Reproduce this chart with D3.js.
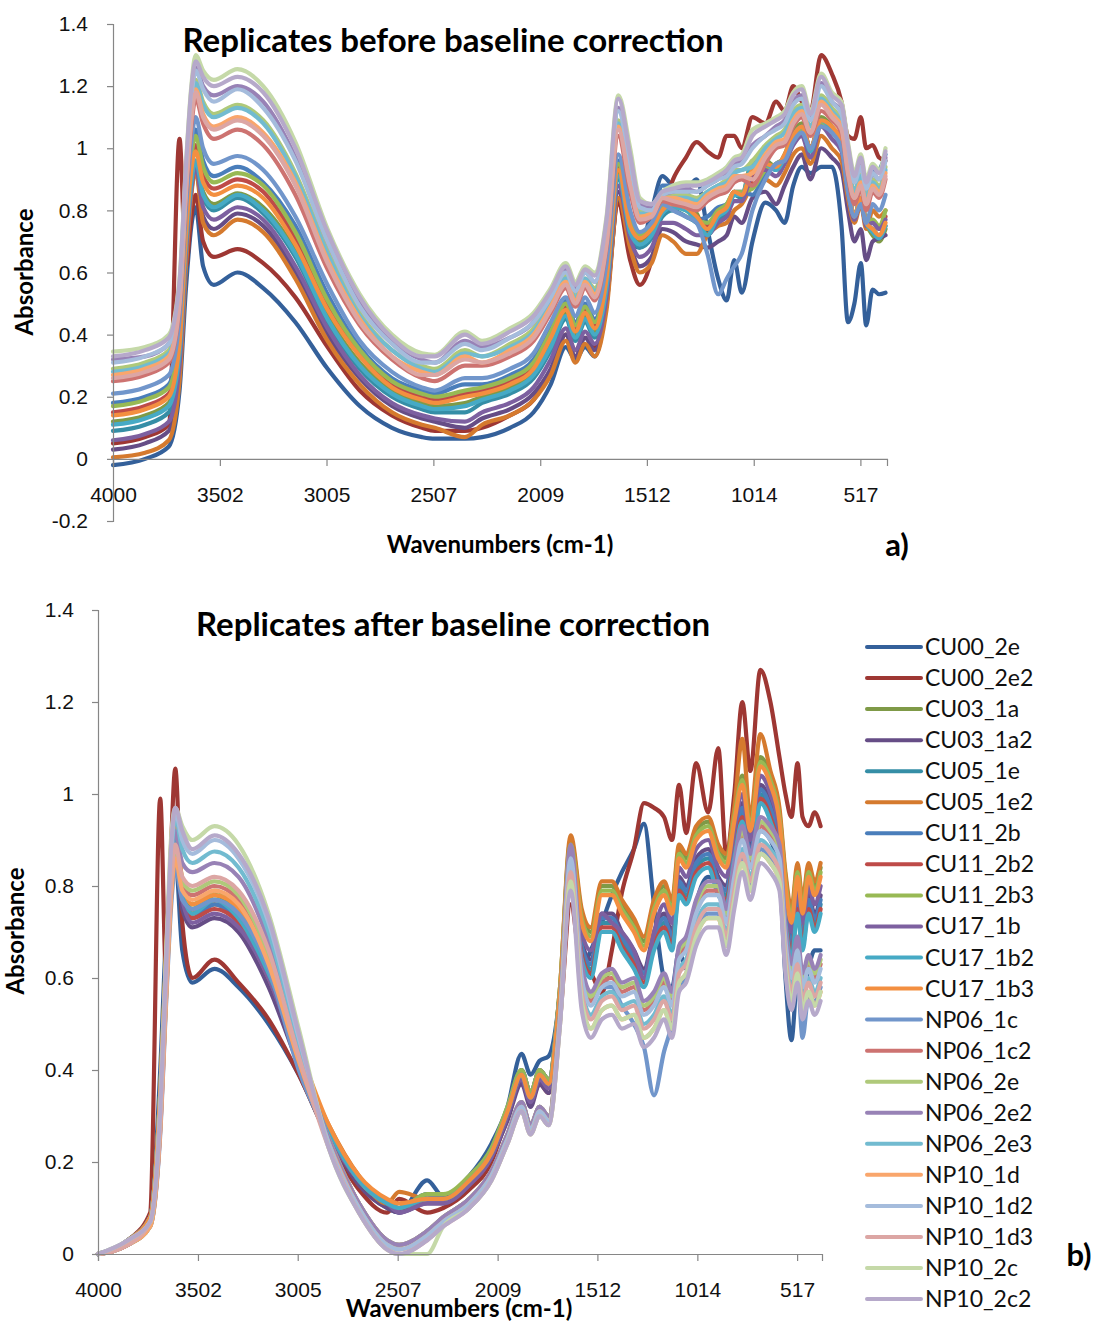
<!DOCTYPE html>
<html>
<head>
<meta charset="utf-8">
<script src="https://cdn.jsdelivr.net/npm/d3@7"></script>
<style>
  body { margin: 0; background: #fff; }
  svg { display: block; font-family: Lato, "Open Sans", sans-serif; }
</style>
</head>
<body>
<div id="chart"></div>
<script>
// wavenumber grid (cm-1) shared by every spectrum
const wavenumbers = [4000, 3850, 3740, 3690, 3660, 3635, 3615, 3580, 3530, 3420,
  3300, 3150, 3000, 2850, 2700, 2560, 2500, 2360, 2280, 2150,
  2040, 1960, 1890, 1845, 1800, 1755, 1700, 1645, 1590, 1545,
  1490, 1440, 1390, 1330, 1280, 1230, 1180, 1140, 1105, 1070,
  1020, 960, 910, 870, 830, 790, 750, 700, 650, 605,
  575, 545, 515, 490, 460, 430, 400];

const seriesNames = ["CU00_2e", "CU00_2e2", "CU03_1a", "CU03_1a2", "CU05_1e", "CU05_1e2",
  "CU11_2b", "CU11_2b2", "CU11_2b3", "CU17_1b", "CU17_1b2", "CU17_1b3",
  "NP06_1c", "NP06_1c2", "NP06_2e", "NP06_2e2", "NP06_2e3", "NP10_1d",
  "NP10_1d2", "NP10_1d3", "NP10_2c", "NP10_2c2"];

const seriesColors = ["#34609A", "#9E3733", "#7F9A47", "#664D86", "#358EA6", "#D57A2E",
  "#4A7EBB", "#BE4B48", "#98B954", "#7D60A0", "#46AAC5", "#F38F40",
  "#7196CB", "#CD7371", "#AFC97A", "#9882B6", "#72BBD0", "#F9A66C",
  "#A5BCDC", "#DCA6A4", "#C5D9A8", "#B6A9CA"];

const xTickLabels = [4000, 3502, 3005, 2507, 2009, 1512, 1014, 517];
const yTicksBefore = [-0.2, 0, 0.2, 0.4, 0.6, 0.8, 1, 1.2, 1.4];
const yTicksAfter = [0, 0.2, 0.4, 0.6, 0.8, 1, 1.2, 1.4];

// ---- a) before baseline correction ----
const before_CU00_2e = [-0.02, 0.0, 0.04, 0.22, 0.55, 0.75, 0.81, 0.62, 0.56, 0.60,
  0.55, 0.44, 0.29, 0.17, 0.10, 0.07, 0.065, 0.065, 0.07, 0.10,
  0.15, 0.24, 0.36, 0.32, 0.36, 0.33, 0.50, 0.83, 0.70, 0.68,
  0.80, 0.91, 0.88, 0.87, 0.90, 0.74, 0.58, 0.51, 0.64, 0.535,
  0.70, 0.825, 0.80, 0.76, 0.88, 0.94, 0.92, 0.94, 0.94, 0.75,
  0.44, 0.50, 0.63, 0.43, 0.545, 0.53, 0.535];
const before_CU00_2e2 = [0.05, 0.07, 0.11, 1.03, 0.62, 0.78, 0.85, 0.70, 0.65, 0.675,
  0.63, 0.52, 0.36, 0.22, 0.14, 0.10, 0.09, 0.09, 0.10, 0.14,
  0.19, 0.28, 0.40, 0.35, 0.39, 0.36, 0.52, 0.82, 0.64, 0.56,
  0.64, 0.80, 0.90, 0.97, 1.02, 0.99, 0.97, 1.04, 1.04, 1.00,
  1.10, 1.08, 1.15, 1.12, 1.20, 1.15, 1.12, 1.30, 1.24, 1.15,
  1.04, 1.03, 1.10, 1.00, 1.01, 0.97, 0.96];
const before_CU03_1a = [0.12, 0.14, 0.18, 0.35, 0.70, 0.90, 0.96, 0.86, 0.82, 0.855,
  0.81, 0.67, 0.46, 0.31, 0.22, 0.18, 0.17, 0.18, 0.20, 0.23,
  0.28, 0.37, 0.47, 0.40, 0.46, 0.41, 0.56, 0.92, 0.74, 0.70,
  0.73, 0.80, 0.83, 0.82, 0.79, 0.72, 0.78, 0.80, 0.86, 0.85,
  0.96, 0.96, 0.94, 0.98, 1.05, 1.08, 1.00, 1.10, 1.07, 1.02,
  0.88, 0.78, 0.84, 0.76, 0.72, 0.70, 0.74];
const before_CU03_1a2 = [0.03, 0.05, 0.09, 0.27, 0.64, 0.86, 0.94, 0.78, 0.74, 0.79,
  0.75, 0.60, 0.40, 0.26, 0.17, 0.13, 0.12, 0.10, 0.13, 0.16,
  0.21, 0.29, 0.40, 0.33, 0.39, 0.35, 0.50, 0.86, 0.69, 0.62,
  0.65, 0.74, 0.73, 0.70, 0.69, 0.68, 0.70, 0.72, 0.78, 0.76,
  0.84, 0.86, 0.82, 0.88, 0.94, 0.98, 0.90, 1.00, 0.97, 0.93,
  0.80, 0.70, 0.74, 0.64, 0.70, 0.71, 0.72];
const before_CU05_1e = [0.09, 0.11, 0.15, 0.33, 0.68, 0.89, 0.95, 0.84, 0.80, 0.84,
  0.79, 0.65, 0.44, 0.29, 0.20, 0.16, 0.15, 0.15, 0.18, 0.21,
  0.26, 0.35, 0.45, 0.38, 0.44, 0.39, 0.54, 0.90, 0.73, 0.68,
  0.71, 0.78, 0.80, 0.78, 0.76, 0.72, 0.77, 0.79, 0.85, 0.84,
  0.94, 0.95, 0.93, 0.97, 1.03, 1.06, 0.99, 1.09, 1.05, 1.01,
  0.87, 0.78, 0.84, 0.76, 0.74, 0.72, 0.75];
const before_CU05_1e2 = [0.005, 0.02, 0.06, 0.25, 0.62, 0.85, 0.93, 0.76, 0.72, 0.77,
  0.73, 0.58, 0.38, 0.24, 0.15, 0.11, 0.10, 0.07, 0.11, 0.14,
  0.19, 0.27, 0.38, 0.31, 0.37, 0.33, 0.48, 0.84, 0.68, 0.60,
  0.63, 0.72, 0.70, 0.66, 0.66, 0.72, 0.75, 0.76, 0.80, 0.82,
  0.88, 0.90, 0.88, 0.92, 0.98, 1.00, 0.95, 1.04, 1.00, 0.96,
  0.84, 0.76, 0.82, 0.74, 0.80, 0.78, 0.80];
const before_CU11_2b = [0.18, 0.20, 0.24, 0.42, 0.77, 0.98, 1.06, 0.96, 0.91, 0.94,
  0.89, 0.75, 0.53, 0.36, 0.26, 0.22, 0.21, 0.24, 0.24, 0.27,
  0.32, 0.42, 0.51, 0.44, 0.50, 0.45, 0.61, 0.96, 0.78, 0.72,
  0.75, 0.88, 0.88, 0.87, 0.77, 0.78, 0.81, 0.82, 0.86, 0.86,
  0.85, 0.92, 0.95, 0.97, 1.03, 1.06, 1.00, 1.08, 1.06, 1.01,
  0.87, 0.78, 0.83, 0.82, 0.92, 0.93, 0.98];
const before_CU11_2b2 = [0.15, 0.17, 0.21, 0.39, 0.74, 0.95, 1.01, 0.91, 0.87, 0.90,
  0.86, 0.71, 0.50, 0.34, 0.24, 0.20, 0.19, 0.21, 0.22, 0.25,
  0.30, 0.40, 0.49, 0.42, 0.48, 0.43, 0.59, 0.94, 0.76, 0.71,
  0.74, 0.81, 0.82, 0.81, 0.78, 0.75, 0.80, 0.81, 0.86, 0.85,
  0.90, 0.94, 0.94, 0.97, 1.04, 1.07, 1.00, 1.09, 1.06, 1.01,
  0.87, 0.78, 0.83, 0.76, 0.76, 0.74, 0.78];
const before_CU11_2b3 = [0.17, 0.19, 0.23, 0.40, 0.75, 0.97, 1.04, 0.94, 0.89, 0.92,
  0.88, 0.73, 0.51, 0.35, 0.25, 0.21, 0.20, 0.22, 0.23, 0.26,
  0.31, 0.41, 0.50, 0.43, 0.49, 0.44, 0.60, 0.95, 0.77, 0.72,
  0.75, 0.81, 0.81, 0.80, 0.77, 0.76, 0.80, 0.82, 0.86, 0.86,
  0.87, 0.93, 0.95, 0.97, 1.03, 1.06, 1.00, 1.08, 1.06, 1.01,
  0.87, 0.78, 0.83, 0.76, 0.77, 0.75, 0.80];
const before_CU17_1b = [0.06, 0.08, 0.12, 0.30, 0.66, 0.87, 0.94, 0.81, 0.77, 0.81,
  0.77, 0.62, 0.42, 0.27, 0.18, 0.14, 0.13, 0.12, 0.15, 0.18,
  0.23, 0.32, 0.42, 0.35, 0.41, 0.37, 0.52, 0.88, 0.71, 0.65,
  0.68, 0.76, 0.76, 0.74, 0.72, 0.72, 0.76, 0.78, 0.83, 0.83,
  0.92, 0.93, 0.91, 0.95, 1.01, 1.04, 0.97, 1.07, 1.03, 0.99,
  0.86, 0.77, 0.83, 0.75, 0.76, 0.74, 0.77];
const before_CU17_1b2 = [0.11, 0.13, 0.17, 0.34, 0.69, 0.89, 0.96, 0.85, 0.81, 0.85,
  0.80, 0.66, 0.45, 0.30, 0.21, 0.17, 0.16, 0.17, 0.19, 0.22,
  0.27, 0.36, 0.46, 0.39, 0.45, 0.40, 0.55, 0.91, 0.73, 0.69,
  0.72, 0.79, 0.81, 0.80, 0.77, 0.72, 0.78, 0.80, 0.85, 0.85,
  0.95, 0.95, 0.93, 0.97, 1.04, 1.07, 0.99, 1.09, 1.06, 1.01,
  0.88, 0.78, 0.84, 0.76, 0.73, 0.71, 0.75];
const before_CU17_1b3 = [0.14, 0.16, 0.20, 0.37, 0.72, 0.93, 0.99, 0.89, 0.85, 0.88,
  0.84, 0.69, 0.48, 0.33, 0.23, 0.19, 0.18, 0.20, 0.21, 0.24,
  0.29, 0.39, 0.48, 0.41, 0.47, 0.42, 0.58, 0.93, 0.75, 0.71,
  0.74, 0.80, 0.82, 0.81, 0.78, 0.74, 0.79, 0.81, 0.86, 0.85,
  0.93, 0.95, 0.94, 0.98, 1.04, 1.07, 1.00, 1.09, 1.07, 1.02,
  0.88, 0.78, 0.84, 0.76, 0.74, 0.72, 0.76];
const before_NP06_1c = [0.21, 0.23, 0.27, 0.45, 0.80, 1.02, 1.10, 1.00, 0.95, 0.975,
  0.93, 0.78, 0.56, 0.38, 0.28, 0.23, 0.22, 0.26, 0.26, 0.29,
  0.34, 0.44, 0.52, 0.46, 0.52, 0.47, 0.63, 0.98, 0.80, 0.73,
  0.76, 0.82, 0.80, 0.78, 0.76, 0.66, 0.53, 0.58, 0.62, 0.66,
  0.80, 0.90, 0.95, 0.96, 1.02, 1.05, 1.00, 1.07, 1.05, 1.00,
  0.86, 0.78, 0.82, 0.76, 0.82, 0.80, 0.85];
const before_NP06_1c2 = [0.25, 0.27, 0.31, 0.49, 0.85, 1.07, 1.16, 1.08, 1.03, 1.06,
  1.01, 0.85, 0.61, 0.43, 0.32, 0.26, 0.25, 0.30, 0.30, 0.33,
  0.38, 0.47, 0.55, 0.49, 0.55, 0.51, 0.68, 1.04, 0.86, 0.76,
  0.78, 0.83, 0.82, 0.81, 0.80, 0.83, 0.85, 0.86, 0.89, 0.90,
  0.88, 0.95, 1.00, 1.01, 1.07, 1.10, 1.04, 1.12, 1.09, 1.05,
  0.91, 0.82, 0.87, 0.80, 0.86, 0.84, 0.90];
const before_NP06_2e = [0.29, 0.31, 0.35, 0.53, 0.89, 1.13, 1.22, 1.15, 1.11, 1.14,
  1.09, 0.92, 0.67, 0.47, 0.35, 0.30, 0.29, 0.35, 0.33, 0.37,
  0.42, 0.51, 0.59, 0.53, 0.58, 0.55, 0.72, 1.09, 0.92, 0.80,
  0.80, 0.84, 0.85, 0.85, 0.84, 0.86, 0.88, 0.90, 0.93, 0.93,
  0.96, 1.01, 1.04, 1.06, 1.12, 1.14, 1.07, 1.17, 1.13, 1.09,
  0.96, 0.86, 0.92, 0.84, 0.90, 0.88, 0.94];
const before_NP06_2e2 = [0.32, 0.33, 0.37, 0.55, 0.92, 1.16, 1.26, 1.20, 1.17, 1.20,
  1.15, 0.97, 0.70, 0.50, 0.38, 0.32, 0.31, 0.38, 0.36, 0.39,
  0.44, 0.53, 0.61, 0.55, 0.60, 0.57, 0.75, 1.13, 0.96, 0.82,
  0.81, 0.85, 0.86, 0.87, 0.86, 0.88, 0.90, 0.92, 0.95, 0.96,
  1.01, 1.04, 1.07, 1.09, 1.15, 1.17, 1.10, 1.21, 1.15, 1.12,
  0.99, 0.89, 0.95, 0.87, 0.92, 0.90, 0.97];
const before_NP06_2e3 = [0.28, 0.30, 0.34, 0.52, 0.88, 1.12, 1.21, 1.14, 1.10, 1.13,
  1.08, 0.91, 0.66, 0.46, 0.35, 0.29, 0.28, 0.34, 0.33, 0.36,
  0.41, 0.50, 0.58, 0.52, 0.58, 0.54, 0.71, 1.08, 0.91, 0.79,
  0.79, 0.84, 0.84, 0.84, 0.83, 0.86, 0.88, 0.89, 0.92, 0.93,
  0.94, 1.00, 1.03, 1.05, 1.11, 1.13, 1.07, 1.16, 1.12, 1.08,
  0.95, 0.86, 0.91, 0.84, 0.89, 0.87, 0.93];
const before_NP10_1d = [0.27, 0.29, 0.33, 0.51, 0.87, 1.10, 1.19, 1.11, 1.07, 1.10,
  1.05, 0.89, 0.64, 0.45, 0.33, 0.28, 0.27, 0.33, 0.31, 0.35,
  0.40, 0.49, 0.57, 0.51, 0.57, 0.53, 0.70, 1.07, 0.89, 0.78,
  0.79, 0.84, 0.84, 0.83, 0.82, 0.85, 0.87, 0.88, 0.91, 0.91,
  0.92, 0.98, 1.02, 1.03, 1.09, 1.12, 1.05, 1.15, 1.11, 1.07,
  0.93, 0.84, 0.89, 0.82, 0.88, 0.86, 0.92];
const before_NP10_1d2 = [0.31, 0.33, 0.37, 0.55, 0.91, 1.16, 1.25, 1.19, 1.15, 1.19,
  1.13, 0.96, 0.70, 0.49, 0.37, 0.31, 0.31, 0.37, 0.35, 0.39,
  0.44, 0.52, 0.60, 0.54, 0.60, 0.57, 0.74, 1.12, 0.95, 0.81,
  0.80, 0.85, 0.86, 0.86, 0.86, 0.88, 0.90, 0.91, 0.94, 0.95,
  1.00, 1.04, 1.06, 1.08, 1.14, 1.16, 1.09, 1.20, 1.15, 1.11,
  0.98, 0.89, 0.94, 0.87, 0.92, 0.90, 0.96];
const before_NP10_1d3 = [0.26, 0.28, 0.32, 0.50, 0.86, 1.09, 1.18, 1.10, 1.06, 1.09,
  1.04, 0.88, 0.63, 0.44, 0.33, 0.27, 0.27, 0.32, 0.31, 0.34,
  0.39, 0.48, 0.56, 0.50, 0.56, 0.52, 0.69, 1.06, 0.88, 0.77,
  0.78, 0.84, 0.83, 0.82, 0.81, 0.84, 0.86, 0.87, 0.90, 0.91,
  0.90, 0.97, 1.01, 1.02, 1.08, 1.11, 1.05, 1.14, 1.10, 1.06,
  0.92, 0.84, 0.88, 0.82, 0.87, 0.85, 0.91];
const before_NP10_2c = [0.345, 0.36, 0.40, 0.58, 0.95, 1.20, 1.30, 1.25, 1.22, 1.255,
  1.20, 1.02, 0.74, 0.53, 0.40, 0.34, 0.335, 0.41, 0.38, 0.42,
  0.47, 0.55, 0.63, 0.57, 0.62, 0.60, 0.78, 1.17, 1.00, 0.84,
  0.82, 0.86, 0.88, 0.89, 0.89, 0.90, 0.92, 0.94, 0.97, 0.98,
  1.06, 1.08, 1.10, 1.12, 1.18, 1.20, 1.12, 1.24, 1.18, 1.15,
  1.02, 0.92, 0.98, 0.90, 0.95, 0.93, 1.00];
const before_NP10_2c2 = [0.33, 0.35, 0.39, 0.57, 0.94, 1.19, 1.28, 1.23, 1.20, 1.23,
  1.18, 1.00, 0.73, 0.52, 0.39, 0.33, 0.33, 0.40, 0.37, 0.41,
  0.46, 0.54, 0.62, 0.56, 0.61, 0.59, 0.77, 1.16, 0.98, 0.83,
  0.82, 0.86, 0.87, 0.88, 0.88, 0.89, 0.91, 0.93, 0.96, 0.97,
  1.04, 1.07, 1.09, 1.11, 1.17, 1.19, 1.11, 1.23, 1.17, 1.14,
  1.01, 0.91, 0.97, 0.89, 0.94, 0.92, 0.99];

// ---- b) after baseline correction ----
const after_CU00_2e = [0, 0.02, 0.07, 0.40, 0.70, 0.82, 0.86, 0.66, 0.59, 0.62,
  0.58, 0.50, 0.39, 0.25, 0.15, 0.10, 0.09, 0.16, 0.125, 0.17,
  0.24, 0.32, 0.435, 0.39, 0.42, 0.43, 0.56, 0.86, 0.62, 0.66,
  0.72, 0.78, 0.83, 0.88, 0.935, 0.76, 0.60, 0.58, 0.66, 0.62,
  0.76, 0.82, 0.80, 0.76, 0.88, 0.92, 0.86, 0.92, 0.90, 0.82,
  0.60, 0.465, 0.60, 0.56, 0.62, 0.66, 0.66];
const after_CU00_2e2 = [0, 0.03, 0.09, 0.99, 0.60, 0.90, 1.055, 0.72, 0.60, 0.64,
  0.59, 0.51, 0.39, 0.25, 0.14, 0.09, 0.12, 0.09, 0.10, 0.14,
  0.20, 0.30, 0.38, 0.33, 0.37, 0.35, 0.50, 0.76, 0.62, 0.61,
  0.567, 0.66, 0.785, 0.88, 0.98, 0.97, 0.95, 0.90, 1.02, 0.915,
  1.067, 0.96, 1.10, 0.87, 1.00, 1.20, 1.05, 1.27, 1.20, 1.08,
  1.00, 0.95, 1.067, 0.95, 0.93, 0.96, 0.93];
const after_CU03_1a = [0, 0.03, 0.08, 0.35, 0.65, 0.85, 0.93, 0.80, 0.75, 0.78,
  0.74, 0.62, 0.44, 0.27, 0.16, 0.11, 0.10, 0.13, 0.12, 0.16,
  0.22, 0.31, 0.40, 0.35, 0.40, 0.38, 0.57, 0.90, 0.74, 0.70,
  0.80, 0.80, 0.76, 0.72, 0.68, 0.76, 0.80, 0.76, 0.88, 0.86,
  0.92, 0.94, 0.88, 0.86, 0.96, 1.04, 0.94, 1.08, 1.04, 0.96,
  0.82, 0.74, 0.84, 0.76, 0.84, 0.80, 0.84];
const after_CU03_1a2 = [0, 0.03, 0.08, 0.33, 0.61, 0.80, 0.87, 0.75, 0.71, 0.73,
  0.70, 0.58, 0.41, 0.26, 0.15, 0.10, 0.09, 0.11, 0.11, 0.15,
  0.21, 0.29, 0.37, 0.32, 0.37, 0.35, 0.54, 0.84, 0.68, 0.64,
  0.74, 0.74, 0.70, 0.66, 0.62, 0.70, 0.74, 0.70, 0.82, 0.80,
  0.86, 0.88, 0.82, 0.80, 0.90, 0.98, 0.88, 1.02, 0.98, 0.90,
  0.76, 0.68, 0.78, 0.70, 0.78, 0.74, 0.78];
const after_CU05_1e = [0, 0.03, 0.08, 0.35, 0.64, 0.84, 0.92, 0.79, 0.74, 0.77,
  0.73, 0.61, 0.44, 0.27, 0.16, 0.11, 0.10, 0.12, 0.12, 0.16,
  0.22, 0.31, 0.39, 0.34, 0.39, 0.37, 0.56, 0.82, 0.66, 0.62,
  0.72, 0.72, 0.68, 0.64, 0.60, 0.68, 0.72, 0.68, 0.80, 0.78,
  0.84, 0.86, 0.80, 0.78, 0.88, 0.96, 0.86, 1.00, 0.96, 0.88,
  0.74, 0.66, 0.76, 0.68, 0.76, 0.72, 0.76];
const after_CU05_1e2 = [0, 0.03, 0.08, 0.34, 0.64, 0.83, 0.91, 0.78, 0.74, 0.76,
  0.73, 0.61, 0.43, 0.28, 0.17, 0.11, 0.135, 0.12, 0.12, 0.16,
  0.22, 0.31, 0.40, 0.35, 0.40, 0.38, 0.57, 0.91, 0.75, 0.71,
  0.81, 0.81, 0.77, 0.73, 0.69, 0.77, 0.81, 0.77, 0.89, 0.87,
  0.93, 0.95, 0.89, 0.87, 0.97, 1.12, 0.95, 1.13, 1.05, 0.97,
  0.83, 0.75, 0.85, 0.77, 0.85, 0.81, 0.85];
const after_CU11_2b = [0, 0.03, 0.08, 0.34, 0.63, 0.83, 0.91, 0.78, 0.73, 0.76,
  0.72, 0.60, 0.43, 0.27, 0.16, 0.11, 0.10, 0.13, 0.12, 0.16,
  0.22, 0.31, 0.40, 0.35, 0.40, 0.38, 0.56, 0.83, 0.67, 0.63,
  0.73, 0.73, 0.69, 0.65, 0.61, 0.69, 0.73, 0.69, 0.81, 0.79,
  0.85, 0.87, 0.81, 0.79, 0.89, 0.97, 0.87, 1.01, 0.97, 0.89,
  0.75, 0.67, 0.77, 0.69, 0.77, 0.73, 0.77];
const after_CU11_2b2 = [0, 0.03, 0.08, 0.34, 0.63, 0.82, 0.90, 0.78, 0.73, 0.75,
  0.72, 0.60, 0.43, 0.26, 0.16, 0.11, 0.10, 0.12, 0.12, 0.16,
  0.22, 0.31, 0.39, 0.34, 0.39, 0.37, 0.56, 0.81, 0.65, 0.61,
  0.71, 0.71, 0.67, 0.63, 0.59, 0.67, 0.71, 0.67, 0.79, 0.77,
  0.83, 0.85, 0.79, 0.77, 0.87, 0.95, 0.85, 0.99, 0.95, 0.87,
  0.73, 0.65, 0.75, 0.67, 0.75, 0.71, 0.75];
const after_CU11_2b3 = [0, 0.03, 0.08, 0.35, 0.66, 0.86, 0.94, 0.81, 0.76, 0.79,
  0.75, 0.63, 0.44, 0.27, 0.16, 0.11, 0.10, 0.13, 0.13, 0.17,
  0.23, 0.32, 0.40, 0.35, 0.40, 0.38, 0.57, 0.89, 0.73, 0.69,
  0.79, 0.79, 0.75, 0.71, 0.67, 0.75, 0.79, 0.75, 0.87, 0.85,
  0.91, 0.93, 0.87, 0.85, 0.95, 1.03, 0.93, 1.07, 1.03, 0.95,
  0.81, 0.73, 0.83, 0.75, 0.83, 0.79, 0.83];
const after_CU17_1b = [0, 0.03, 0.08, 0.34, 0.62, 0.82, 0.89, 0.77, 0.72, 0.74,
  0.71, 0.60, 0.42, 0.26, 0.16, 0.11, 0.09, 0.11, 0.11, 0.15,
  0.21, 0.30, 0.38, 0.33, 0.38, 0.36, 0.55, 0.87, 0.70, 0.66,
  0.74, 0.72, 0.70, 0.66, 0.60, 0.70, 0.76, 0.72, 0.84, 0.82,
  0.88, 0.90, 0.84, 0.82, 0.92, 1.00, 0.90, 1.04, 1.00, 0.92,
  0.78, 0.70, 0.80, 0.72, 0.80, 0.76, 0.80];
const after_CU17_1b2 = [0, 0.03, 0.08, 0.35, 0.64, 0.84, 0.92, 0.79, 0.74, 0.77,
  0.73, 0.61, 0.44, 0.27, 0.16, 0.11, 0.10, 0.12, 0.12, 0.16,
  0.22, 0.31, 0.39, 0.34, 0.39, 0.37, 0.56, 0.80, 0.64, 0.60,
  0.70, 0.70, 0.66, 0.62, 0.58, 0.66, 0.70, 0.66, 0.78, 0.76,
  0.82, 0.84, 0.78, 0.76, 0.86, 0.94, 0.84, 0.98, 0.94, 0.86,
  0.72, 0.64, 0.74, 0.66, 0.74, 0.70, 0.74];
const after_CU17_1b3 = [0, 0.03, 0.08, 0.35, 0.66, 0.86, 0.94, 0.81, 0.76, 0.78,
  0.75, 0.63, 0.45, 0.28, 0.17, 0.12, 0.11, 0.12, 0.12, 0.16,
  0.22, 0.31, 0.39, 0.34, 0.39, 0.37, 0.56, 0.88, 0.72, 0.68,
  0.78, 0.78, 0.74, 0.70, 0.66, 0.74, 0.78, 0.74, 0.86, 0.84,
  0.90, 0.92, 0.86, 0.84, 0.94, 1.02, 0.92, 1.06, 1.02, 0.94,
  0.80, 0.72, 0.82, 0.74, 0.82, 0.78, 0.82];
const after_NP06_1c = [0, 0.02, 0.06, 0.26, 0.55, 0.76, 0.84, 0.77, 0.75, 0.77,
  0.74, 0.62, 0.40, 0.25, 0.11, 0.03, 0.02, 0.05, 0.08, 0.12,
  0.18, 0.26, 0.33, 0.28, 0.32, 0.30, 0.51, 0.84, 0.60, 0.56,
  0.58, 0.58, 0.54, 0.50, 0.45, 0.345, 0.44, 0.50, 0.58, 0.60,
  0.70, 0.74, 0.74, 0.68, 0.80, 0.86, 0.80, 0.88, 0.86, 0.82,
  0.64, 0.54, 0.60, 0.47, 0.56, 0.55, 0.58];
const after_NP06_1c2 = [0, 0.02, 0.06, 0.27, 0.57, 0.79, 0.87, 0.80, 0.78, 0.80,
  0.77, 0.64, 0.42, 0.25, 0.11, 0.03, 0.02, 0.05, 0.08, 0.12,
  0.18, 0.26, 0.33, 0.28, 0.32, 0.30, 0.51, 0.87, 0.61, 0.55,
  0.59, 0.60, 0.57, 0.58, 0.53, 0.55, 0.59, 0.55, 0.65, 0.67,
  0.75, 0.79, 0.79, 0.73, 0.83, 0.91, 0.85, 0.93, 0.91, 0.87,
  0.69, 0.61, 0.67, 0.59, 0.63, 0.60, 0.63];
const after_NP06_2e = [0, 0.02, 0.06, 0.28, 0.57, 0.80, 0.88, 0.81, 0.79, 0.81,
  0.78, 0.65, 0.43, 0.25, 0.11, 0.03, 0.02, 0.05, 0.08, 0.12,
  0.18, 0.26, 0.33, 0.28, 0.32, 0.30, 0.51, 0.88, 0.62, 0.56,
  0.60, 0.61, 0.58, 0.59, 0.54, 0.56, 0.60, 0.56, 0.66, 0.68,
  0.76, 0.80, 0.80, 0.74, 0.84, 0.92, 0.86, 0.94, 0.92, 0.88,
  0.70, 0.62, 0.68, 0.60, 0.64, 0.61, 0.64];
const after_NP06_2e2 = [0, 0.02, 0.07, 0.29, 0.60, 0.84, 0.92, 0.85, 0.83, 0.85,
  0.82, 0.68, 0.45, 0.25, 0.11, 0.03, 0.02, 0.05, 0.08, 0.12,
  0.18, 0.26, 0.33, 0.28, 0.32, 0.30, 0.51, 0.89, 0.63, 0.57,
  0.61, 0.62, 0.59, 0.60, 0.55, 0.57, 0.61, 0.57, 0.67, 0.69,
  0.77, 0.81, 0.81, 0.75, 0.85, 0.93, 0.87, 0.95, 0.93, 0.89,
  0.71, 0.63, 0.69, 0.61, 0.65, 0.62, 0.65];
const after_NP06_2e3 = [0, 0.025, 0.07, 0.30, 0.62, 0.86, 0.95, 0.88, 0.85, 0.875,
  0.84, 0.70, 0.46, 0.24, 0.10, 0.02, 0.01, 0.04, 0.07, 0.11,
  0.17, 0.25, 0.32, 0.27, 0.31, 0.29, 0.50, 0.84, 0.58, 0.52,
  0.56, 0.57, 0.54, 0.55, 0.50, 0.52, 0.56, 0.52, 0.62, 0.64,
  0.72, 0.76, 0.76, 0.70, 0.80, 0.88, 0.82, 0.90, 0.88, 0.84,
  0.66, 0.58, 0.64, 0.56, 0.60, 0.57, 0.60];
const after_NP10_1d = [0, 0.02, 0.06, 0.27, 0.56, 0.78, 0.86, 0.79, 0.77, 0.79,
  0.76, 0.63, 0.42, 0.24, 0.10, 0.02, 0.01, 0.04, 0.07, 0.11,
  0.17, 0.25, 0.32, 0.27, 0.31, 0.29, 0.50, 0.81, 0.55, 0.49,
  0.53, 0.54, 0.51, 0.52, 0.47, 0.49, 0.53, 0.49, 0.59, 0.61,
  0.69, 0.73, 0.73, 0.67, 0.77, 0.85, 0.79, 0.87, 0.85, 0.81,
  0.63, 0.55, 0.61, 0.53, 0.57, 0.54, 0.57];
const after_NP10_1d2 = [0, 0.03, 0.07, 0.31, 0.63, 0.88, 0.96, 0.90, 0.87, 0.90,
  0.86, 0.72, 0.47, 0.24, 0.10, 0.02, 0.01, 0.04, 0.07, 0.11,
  0.17, 0.25, 0.32, 0.27, 0.31, 0.29, 0.50, 0.86, 0.60, 0.54,
  0.58, 0.59, 0.56, 0.57, 0.52, 0.54, 0.58, 0.54, 0.64, 0.66,
  0.74, 0.78, 0.78, 0.72, 0.82, 0.90, 0.84, 0.92, 0.90, 0.86,
  0.68, 0.60, 0.66, 0.58, 0.62, 0.59, 0.62];
const after_NP10_1d3 = [0, 0.02, 0.07, 0.28, 0.58, 0.81, 0.89, 0.82, 0.80, 0.82,
  0.79, 0.66, 0.43, 0.23, 0.09, 0.01, 0.0, 0.03, 0.06, 0.10,
  0.16, 0.24, 0.31, 0.26, 0.30, 0.28, 0.49, 0.83, 0.57, 0.51,
  0.55, 0.56, 0.53, 0.54, 0.49, 0.51, 0.55, 0.51, 0.61, 0.63,
  0.71, 0.75, 0.75, 0.69, 0.79, 0.87, 0.81, 0.89, 0.87, 0.83,
  0.65, 0.57, 0.63, 0.55, 0.59, 0.56, 0.59];
const after_NP10_2c = [0, 0.03, 0.07, 0.32, 0.66, 0.91, 0.97, 0.93, 0.90, 0.93,
  0.89, 0.74, 0.49, 0.23, 0.09, 0.01, 0.0, 0.0, 0.06, 0.10,
  0.16, 0.24, 0.31, 0.26, 0.30, 0.28, 0.49, 0.81, 0.55, 0.49,
  0.53, 0.54, 0.51, 0.52, 0.47, 0.49, 0.53, 0.49, 0.59, 0.61,
  0.69, 0.73, 0.73, 0.67, 0.77, 0.85, 0.79, 0.87, 0.85, 0.81,
  0.63, 0.55, 0.61, 0.53, 0.57, 0.54, 0.57];
const after_NP10_2c2 = [0, 0.03, 0.07, 0.31, 0.64, 0.89, 0.97, 0.92, 0.88, 0.91,
  0.87, 0.73, 0.48, 0.23, 0.09, 0.01, 0.0, 0.03, 0.06, 0.10,
  0.16, 0.24, 0.31, 0.26, 0.30, 0.28, 0.49, 0.79, 0.53, 0.47,
  0.51, 0.52, 0.49, 0.50, 0.45, 0.47, 0.51, 0.47, 0.57, 0.59,
  0.67, 0.71, 0.71, 0.65, 0.75, 0.83, 0.77, 0.85, 0.83, 0.79,
  0.61, 0.53, 0.59, 0.51, 0.55, 0.52, 0.55];

const beforeSeries = [before_CU00_2e, before_CU00_2e2, before_CU03_1a, before_CU03_1a2,
  before_CU05_1e, before_CU05_1e2, before_CU11_2b, before_CU11_2b2, before_CU11_2b3,
  before_CU17_1b, before_CU17_1b2, before_CU17_1b3, before_NP06_1c, before_NP06_1c2,
  before_NP06_2e, before_NP06_2e2, before_NP06_2e3, before_NP10_1d, before_NP10_1d2,
  before_NP10_1d3, before_NP10_2c, before_NP10_2c2];
const afterSeries = [after_CU00_2e, after_CU00_2e2, after_CU03_1a, after_CU03_1a2,
  after_CU05_1e, after_CU05_1e2, after_CU11_2b, after_CU11_2b2, after_CU11_2b3,
  after_CU17_1b, after_CU17_1b2, after_CU17_1b3, after_NP06_1c, after_NP06_1c2,
  after_NP06_2e, after_NP06_2e2, after_NP06_2e3, after_NP10_1d, after_NP10_1d2,
  after_NP10_1d3, after_NP10_2c, after_NP10_2c2];

const svg = d3.select("#chart").append("svg")
  .attr("width", 1099)
  .attr("height", 1322);

const axisColor = "#868686";

function drawPanel(p) {
  const x = d3.scaleLinear().domain([4000, 393]).range([p.left, p.right]);
  const y = d3.scaleLinear().domain(p.yDomain).range([p.bottom, p.top]);
  const g = svg.append("g");

  // spectra
  const line = d3.line()
    .x((d, i) => x(wavenumbers[i]))
    .y(d => y(d))
    .curve(d3.curveMonotoneX);
  g.append("g")
    .selectAll("path")
    .data(p.series)
    .join("path")
    .attr("d", d => line(d))
    .attr("fill", "none")
    .attr("stroke", (d, i) => seriesColors[i])
    .attr("stroke-width", 4.2)
    .attr("stroke-linejoin", "round")
    .attr("stroke-linecap", "round");

  // y axis
  const yAxis = g.append("g")
    .attr("transform", `translate(${p.left},0)`)
    .call(d3.axisLeft(y).tickValues(p.yTicks).tickSize(6).tickPadding(p.yPad)
      .tickFormat(d => String(+d.toFixed(1))));
  // x axis at zero
  const xAxis = g.append("g")
    .attr("transform", `translate(0,${y(0)})`)
    .call(d3.axisBottom(x).tickValues(xTickLabels).tickSize(7).tickPadding(21)
      .tickFormat(d => d));
  [yAxis, xAxis].forEach(a => {
    a.select(".domain").attr("stroke", axisColor).attr("stroke-width", 1.2);
    a.selectAll(".tick line").attr("stroke", axisColor).attr("stroke-width", 1.2);
    a.selectAll(".tick text").attr("fill", "#111").style("font-size", "21px");
  });

  // titles
  g.append("text")
    .attr("x", 453).attr("y", p.titleY)
    .attr("text-anchor", "middle")
    .style("font-size", "33px").style("font-weight", "bold")
    .text(p.title);
  g.append("text")
    .attr("x", p.xTitleX).attr("y", p.xTitleY)
    .attr("text-anchor", "middle")
    .style("font-size", "24px").style("font-weight", "bold")
    .text("Wavenumbers (cm-1)");
  g.append("text")
    .attr("transform", `translate(${p.yTitleX},${p.yTitleY}) rotate(-90)`)
    .attr("text-anchor", "middle")
    .style("font-size", "24px").style("font-weight", "bold")
    .text("Absorbance");
  g.append("text")
    .attr("x", p.tagX).attr("y", p.tagY)
    .attr("text-anchor", "middle")
    .style("font-size", "31px").style("font-weight", "bold")
    .text(p.tag);
}

drawPanel({
  series: beforeSeries, left: 113, right: 887, top: 24, bottom: 521,
  yDomain: [-0.2, 1.4], yTicks: yTicksBefore, yPad: 19,
  title: "Replicates before baseline correction", titleY: 52,
  xTitleX: 500, xTitleY: 553, yTitleX: 33, yTitleY: 272,
  tag: "a)", tagX: 897, tagY: 556
});

drawPanel({
  series: afterSeries, left: 98, right: 822, top: 610, bottom: 1254,
  yDomain: [0, 1.4], yTicks: yTicksAfter, yPad: 18,
  title: "Replicates after baseline correction", titleY: 636,
  xTitleX: 459, xTitleY: 1317, yTitleX: 24, yTitleY: 931,
  tag: "b)", tagX: 1079, tagY: 1266
});

// legend
const legend = svg.append("g");
seriesNames.forEach((name, i) => {
  const ly = 647 + i * 31.05;
  legend.append("line")
    .attr("x1", 867).attr("x2", 921)
    .attr("y1", ly).attr("y2", ly)
    .attr("stroke", seriesColors[i])
    .attr("stroke-width", 4)
    .attr("stroke-linecap", "round");
  legend.append("text")
    .attr("x", 925).attr("y", ly + 8)
    .style("font-size", "23px")
    .attr("fill", "#111")
    .text(name);
});
</script>
</body>
</html>
